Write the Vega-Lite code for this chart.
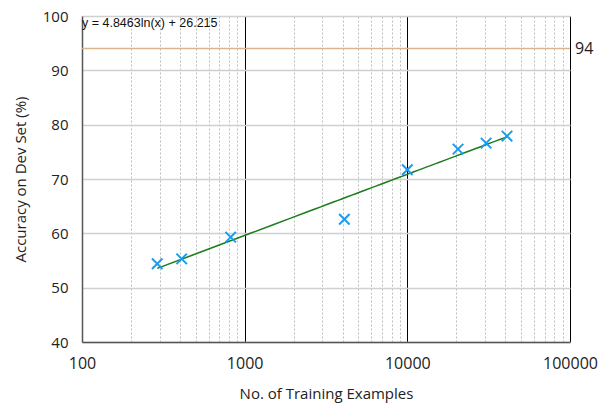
{
  "$schema": "https://vega.github.io/schema/vega-lite/v6.json",
  "autosize": {"type": "none"},
  "padding": {"left": 82, "top": 16, "right": 30, "bottom": 65},
  "width": 488,
  "height": 326,
  "config": {
    "view": {"stroke": null},
    "font": "Open Sans",
    "axis": {"labelFont": "Open Sans", "titleFont": "Open Sans", "labelColor": "#222", "titleColor": "#222", "titleFontWeight": "normal"}
  },
  "datasets": {
    "pts": [
      {"x": 290, "y": 54.4},
      {"x": 410, "y": 55.3},
      {"x": 820, "y": 59.3},
      {"x": 4100, "y": 62.6},
      {"x": 10000, "y": 71.7},
      {"x": 20500, "y": 75.5},
      {"x": 30500, "y": 76.6},
      {"x": 41000, "y": 77.9}
    ]
  },
  "layer": [
    {
      "data": {"name": "pts"},
      "mark": {"type": "point", "opacity": 0},
      "encoding": {
        "x": {
          "field": "x", "type": "quantitative",
          "scale": {"type": "log", "domain": [100, 100000], "nice": false},
          "axis": {
            "title": "No. of Training Examples",
            "titleFontSize": 15, "titlePadding": 15,
            "labelFontSize": 16, "labelPadding": 13,
            "labelFlush": false,
            "format": "d",
            "values": [100,200,300,400,500,600,700,800,900,1000,2000,3000,4000,5000,6000,7000,8000,9000,10000,20000,30000,40000,50000,60000,70000,80000,90000,100000],
            "labelExpr": "indexof([100,1000,10000,100000], datum.value) >= 0 ? datum.label : ''",
            "ticks": false,
            "domainColor": "#555", "domainWidth": 1.5,
            "grid": true,
            "gridColor": {"condition": {"test": "indexof([1000,10000,100000], datum.value) >= 0", "value": "#000"}, "value": "#bdbdbd"},
            "gridDash": {"condition": {"test": "indexof([1000,10000,100000], datum.value) >= 0", "value": []}, "value": [2, 2]},
            "gridWidth": 1,
            "labelOverlap": false
          }
        },
        "y": {
          "field": "y", "type": "quantitative",
          "scale": {"domain": [40, 100], "nice": false, "zero": false},
          "axis": {
            "title": "Accuracy on Dev Set (%)",
            "titleFontSize": 15, "titlePadding": 14,
            "labelFontSize": 15, "labelPadding": 14,
            "labelFlush": false,
            "values": [40, 50, 60, 70, 80, 90, 100],
            "ticks": false,
            "domainColor": "#555", "domainWidth": 1.5,
            "grid": true, "gridColor": "#d0d0d0", "gridWidth": 1.5
          }
        }
      }
    },
    {
      "data": {"values": [{"y": 94}]},
      "mark": {"type": "rule", "color": "#dbb38f", "strokeWidth": 1.5},
      "encoding": {"y": {"field": "y", "type": "quantitative"}}
    },
    {
      "data": {"values": [{"x": 100000, "y": 94, "t": "94"}]},
      "mark": {"type": "text", "align": "left", "dx": 5, "fontSize": 16, "font": "Open Sans", "color": "#222"},
      "encoding": {
        "x": {"field": "x", "type": "quantitative"},
        "y": {"field": "y", "type": "quantitative"},
        "text": {"field": "t"}
      }
    },
    {
      "data": {"name": "pts"},
      "transform": [{"regression": "y", "on": "x", "method": "log"}],
      "mark": {"type": "line", "color": "#1b7d1b", "strokeWidth": 1.5},
      "encoding": {
        "x": {"field": "x", "type": "quantitative"},
        "y": {"field": "y", "type": "quantitative"}
      }
    },
    {
      "data": {"name": "pts"},
      "mark": {"type": "point", "shape": "M-1,-1L1,1M1,-1L-1,1", "filled": false, "stroke": "#1a9cf0", "strokeWidth": 2, "size": 110, "opacity": 1},
      "encoding": {
        "x": {"field": "x", "type": "quantitative"},
        "y": {"field": "y", "type": "quantitative"}
      }
    },
    {
      "data": {"values": [{"x": 100, "y": 98.7, "t": "y = 4.8463ln(x) + 26.215"}]},
      "mark": {"type": "text", "align": "left", "dx": 0, "fontSize": 12.5, "font": "Liberation Sans", "color": "#111"},
      "encoding": {
        "x": {"field": "x", "type": "quantitative"},
        "y": {"field": "y", "type": "quantitative"},
        "text": {"field": "t"}
      }
    }
  ]
}
